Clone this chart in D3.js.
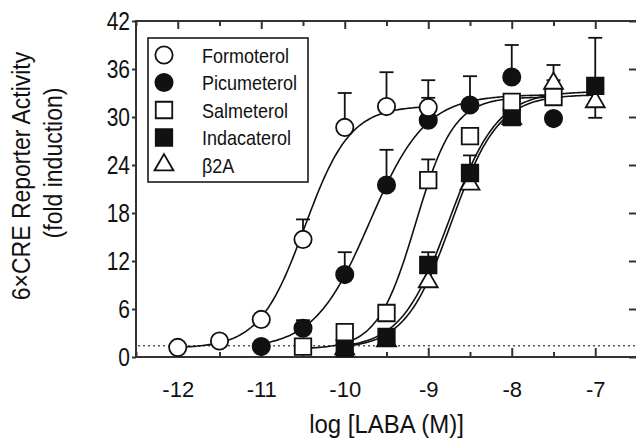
<!doctype html>
<html>
  <head>
    <script src="https://cdnjs.cloudflare.com/ajax/libs/d3/7.8.5/d3.min.js" type="text/javascript"></script>
    <style>
      body { margin: 0; background: #fff; }
      svg { display: block; }
      text {
        font-family: "Liberation Sans", Arial, sans-serif;
        fill: #111;
      }
      .frame { fill: none; stroke: #333; stroke-width: 2px; }
      .axis path.domain { display: none; }
      .axis line { stroke: #333; stroke-width: 2px; }
      .axis text { font-size: 22px; }
      .axis.left text {
        font-size: 21px;
        transform-box: fill-box; transform-origin: center; transform: scaleY(1.2);
      }
      .fit { fill: none; stroke: #111; stroke-width: 1.6px; }
      .err { stroke: #111; stroke-width: 1.8px; }
      .basal { stroke: #555; stroke-width: 1.5px; stroke-dasharray: 2 3; }
      .marker { stroke: #111; stroke-width: 1.8px; }
      .legend rect { fill: #fff; stroke: #333; stroke-width: 1.8px; }
      .legend text {
        font-size: 18px;
        transform-box: fill-box; transform-origin: center; transform: scaleY(1.08);
      }
      .title { font-size: 24px; text-anchor: middle; }
      .title.x { transform-box: fill-box; transform-origin: center; transform: scaleY(1.1); }
    </style>
  </head>
  <body>
    <svg width="636" height="439"></svg>

    <script>
      // tick values
      var xTicks = [-12, -11, -10, -9, -8, -7];
      var xMinor = [-12.5, -11.5, -10.5, -9.5, -8.5, -7.5, -6.5];
      var yTicks = [0, 6, 12, 18, 24, 30, 36, 42];

      var drugNames = ["Formoterol", "Picumeterol", "Salmeterol", "Indacaterol", "β2A"];

      // log [LABA], fold induction, error (+ up, - down)
      var formoterolLog  = [-12, -11.5, -11, -10.5, -10, -9.5, -9];
      var formoterolFold = [1.2, 2.0, 4.7, 14.7, 28.7, 31.3, 31.2];
      var formoterolErr  = [0, 0, 0, 2.5, 4.3, 4.3, 3.4];

      var picumeterolLog  = [-11, -10.5, -10, -9.5, -9, -8.5, -8, -7.5];
      var picumeterolFold = [1.3, 3.6, 10.3, 21.5, 29.6, 31.5, 35.0, 29.8];
      var picumeterolErr  = [0, 1.0, 2.8, 4.4, 2.8, 3.6, 4.0, 0];

      var salmeterolLog  = [-10.5, -10, -9.5, -9, -8.5, -8, -7.5];
      var salmeterolFold = [1.3, 3.1, 5.5, 22.1, 27.6, 31.9, 32.5];
      var salmeterolErr  = [0, 0, 0, 2.6, 0, 0, 2.1];

      var indacaterolLog  = [-10, -9.5, -9, -8.5, -8, -7];
      var indacaterolFold = [1.1, 2.5, 11.5, 23.0, 30.0, 33.9];
      var indacaterolErr  = [0, 0, 1.6, 2.2, 0, 6.0];

      var b2aLog  = [-10, -9.5, -9, -8.5, -8, -7.5, -7];
      var b2aFold = [1.0, 2.0, 9.4, 21.6, 29.8, 34.2, 31.9];
      var b2aErr  = [0, 0, 0, 0, 0, 2.3, -2.0];

      // sigmoid fit parameters, same order as drugNames
      var fitBottom = [1.1, 1.0, 1.0, 1.0, 1.0];
      var fitTop    = [31.4, 32.8, 32.5, 33.2, 32.8];
      var fitEC50   = [-10.48, -9.7, -9.15, -8.75, -8.72];
      var fitHill   = [1.6, 1.3, 1.9, 1.5, 1.55];

      var basalLevel = 1.4;

      var series = [
        { log: formoterolLog, fold: formoterolFold, err: formoterolErr, shape: d3.symbolCircle, filled: false },
        { log: picumeterolLog, fold: picumeterolFold, err: picumeterolErr, shape: d3.symbolCircle, filled: true },
        { log: salmeterolLog, fold: salmeterolFold, err: salmeterolErr, shape: d3.symbolSquare, filled: false },
        { log: indacaterolLog, fold: indacaterolFold, err: indacaterolErr, shape: d3.symbolSquare, filled: true },
        { log: b2aLog, fold: b2aFold, err: b2aErr, shape: d3.symbolTriangle, filled: false }
      ];
      series.forEach((s, i) => {
        s.name = drugNames[i];
        s.fit = x => fitBottom[i] + (fitTop[i] - fitBottom[i]) / (1 + Math.pow(10, fitHill[i] * (fitEC50[i] - x)));
      });
      // back to front, as stacked in the figure
      var drawOrder = [4, 3, 1, 2, 0];

      var svg = d3.select("svg");
      var x = d3.scaleLinear().domain([-12.5, -6.5]).range([136, 637]);
      var y = d3.scaleLinear().domain([0, 42]).range([357, 21]);

      var symbolSize = s => s.shape === d3.symbolCircle ? 235 : s.shape === d3.symbolSquare ? 272 : 155;
      var symbol = s => d3.symbol().type(s.shape).size(symbolSize(s))();

      // frame
      svg.append("rect").attr("class", "frame")
        .attr("x", x(-12.5)).attr("y", y(42))
        .attr("width", x(-6.5) - x(-12.5)).attr("height", y(0) - y(42));

      // axes
      svg.append("g").attr("class", "axis left")
        .attr("transform", `translate(${x(-12.5)},0)`)
        .call(d3.axisLeft(y).tickValues(yTicks).tickSize(4).tickPadding(2));
      svg.append("g").attr("class", "axis")
        .attr("transform", `translate(${x(-6.5)},0)`)
        .call(d3.axisRight(y).tickValues(yTicks).tickSize(-8).tickFormat(""));
      svg.append("g").attr("class", "axis")
        .attr("transform", `translate(0,${y(0)})`)
        .call(d3.axisBottom(x).tickValues(xTicks).tickSize(-9).tickPadding(24).tickFormat(d3.format("d")));
      svg.append("g").attr("class", "axis")
        .attr("transform", `translate(0,${y(0)})`)
        .call(d3.axisBottom(x).tickValues(xMinor).tickSize(-5).tickFormat(""));
      svg.append("g").attr("class", "axis")
        .attr("transform", `translate(0,${y(42)})`)
        .call(d3.axisTop(x).tickValues(xTicks).tickSize(-8).tickFormat(""));
      svg.append("g").attr("class", "axis")
        .attr("transform", `translate(0,${y(42)})`)
        .call(d3.axisTop(x).tickValues(xMinor).tickSize(-5).tickFormat(""));
      svg.selectAll(".axis text").text(function () { return this.textContent.replace("−", "-"); });

      // basal level
      svg.append("line").attr("class", "basal")
        .attr("x1", x(-12.5) + 2).attr("x2", x(-6.5))
        .attr("y1", y(basalLevel)).attr("y2", y(basalLevel));

      // fitted curves
      var line = d3.line().x(d => x(d[0])).y(d => y(d[1]));
      drawOrder.forEach(i => {
        var s = series[i];
        var lo = d3.min(s.log), hi = d3.max(s.log);
        var pts = d3.range(lo, hi + 0.001, 0.02).map(v => [v, s.fit(v)]);
        svg.append("path").attr("class", "fit").attr("d", line(pts));
      });

      // error bars
      drawOrder.forEach(i => {
        var s = series[i];
        var g = svg.append("g");
        s.log.forEach((lv, j) => {
          if (!s.err[j]) return;
          var top = s.fold[j] + s.err[j];
          g.append("line").attr("class", "err")
            .attr("x1", x(lv)).attr("x2", x(lv))
            .attr("y1", y(s.fold[j])).attr("y2", y(top));
          g.append("line").attr("class", "err")
            .attr("x1", x(lv) - 7).attr("x2", x(lv) + 7)
            .attr("y1", y(top)).attr("y2", y(top));
        });
      });

      // markers
      drawOrder.forEach(i => {
        var s = series[i];
        svg.append("g").selectAll("path")
          .data(s.log.map((lv, j) => [lv, s.fold[j]]))
          .enter()
          .append("path")
            .attr("class", "marker")
            .attr("d", symbol(s))
            .attr("fill", s.filled ? "#111" : "#fff")
            .attr("transform", d => `translate(${x(d[0])},${y(d[1])})`);
      });

      // legend
      var legend = svg.append("g").attr("class", "legend").attr("transform", "translate(148,38)");
      legend.append("rect").attr("width", 160).attr("height", 144);
      var item = legend.selectAll("g.item")
        .data(series)
        .enter()
        .append("g")
          .attr("class", "item")
          .attr("transform", (d, i) => `translate(0,${17 + i * 27.5})`);
      item.append("path")
        .attr("class", "marker")
        .attr("d", d => symbol(d))
        .attr("fill", d => d.filled ? "#111" : "#fff")
        .attr("transform", "translate(16,0)");
      item.append("text")
        .attr("x", 54).attr("y", 7)
        .text(d => d.name);

      // axis titles
      svg.append("text").attr("class", "title x")
        .attr("x", x(-9.5)).attr("y", 432)
        .text("log [LABA (M)]");
      svg.append("text").attr("class", "title")
        .attr("transform", "translate(30,176) rotate(-90) scale(1,1.12)")
        .style("font-size", "23px")
        .text("6×CRE Reporter Activity");
      svg.append("text").attr("class", "title")
        .attr("transform", "translate(62,163) rotate(-90) scale(1,1.12)")
        .style("font-size", "23px")
        .text("(fold induction)");
    </script>
  </body>
</html>
